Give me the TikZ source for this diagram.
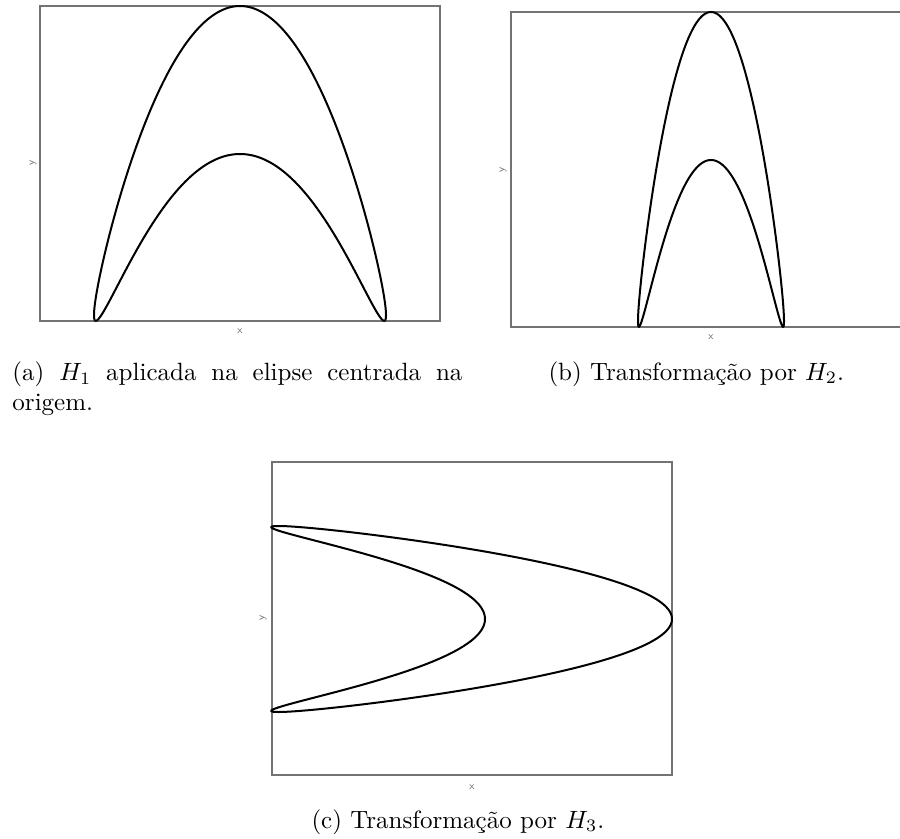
\documentclass[tikz,border=0pt]{standalone}
\usepackage{fontspec}
\usepackage{amsmath}
\usepackage{tikz}
\usetikzlibrary{calc}

\begin{document}
\begin{tikzpicture}[x=0.4pt, y=-0.4pt,
  box/.style={draw=black!55, line width=0.45pt},
  curve/.style={black, line width=0.8pt, line join=round},
  axlabel/.style={font=\fontsize{4.2}{5}\selectfont\sffamily, text=black!60, inner sep=0pt},
  subcap/.style={font=\normalsize, inner sep=0pt, anchor=base west}]
  \useasboundingbox (0,0) rectangle (900,839);

  % Panel (a): H_1 on the ellipse
  \draw[box] (40,6) rectangle (440,321);
  \draw[curve] plot[domain=0:360, samples=361, variable=\t]
    ({240+146*cos(\t)}, {80-74*sin(\t)+235*cos(\t)*cos(\t)});
  \node[axlabel] (xa) at (240,331) {x};
  \node[axlabel, rotate=90] (ya) at (33,163) {y};
  \node[subcap, anchor=north west, text width=180pt, align=justify] (capa) at (12,361)
    {(a) $H_1$ aplicada na elipse centrada na origem.};

  % Panel (b): H_2
  \begin{scope}
    \clip (0,0) rectangle (900,839);
    \draw[box] (511,12) rectangle (911,327);
  \end{scope}
  \draw[curve] plot[domain=0:360, samples=361, variable=\t]
    ({711+73*cos(\t)}, {86-74*sin(\t)+235*cos(\t)*cos(\t)});
  \node[axlabel] (xb) at (711,337) {x};
  \node[axlabel, rotate=90] (yb) at (503,170) {y};
  \node[subcap] (capb) at (548,380) {(b) Transformação por $H_2$.};

  % Panel (c): H_3
  \draw[box] (272,462) rectangle (672,775);
  \draw[curve] plot[domain=0:360, samples=361, variable=\t]
    ({578.5+93.5*sin(\t)-300*cos(\t)*cos(\t)}, {619-93*cos(\t)});
  \node[axlabel] (xc) at (472,787) {x};
  \node[axlabel, rotate=90] (yc) at (263,618) {y};
  \node[subcap] (capc) at (311,828) {(c) Transformação por $H_3$.};
\end{tikzpicture}
\end{document}
